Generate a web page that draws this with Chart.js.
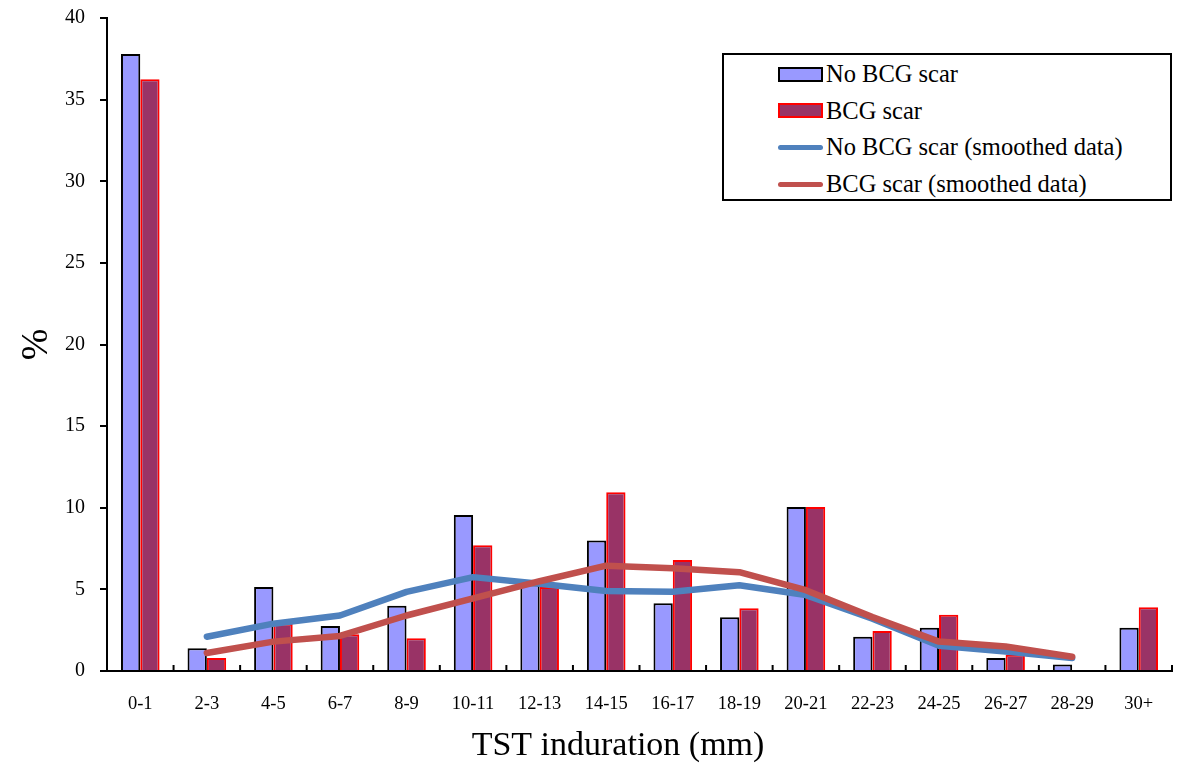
<!DOCTYPE html>
<html>
<head>
<meta charset="utf-8">
<script src="https://cdn.jsdelivr.net/npm/chart.js@4"></script>
<style>
  body { margin: 0; background: #fff; }
  #wrap { position: relative; width: 1200px; height: 773px; }
  #legend {
    position: absolute; left: 722px; top: 53px; width: 450px; height: 148px;
    border: 2px solid #000; box-sizing: border-box; background: #fff;
    font-family: "Liberation Serif", "Times New Roman", serif; font-size: 24.5px; color: #000;
    padding-top: 1px;
  }
  .item { height: 36.6px; display: flex; align-items: center; padding-left: 54px; }
  .sw { width: 45px; margin-right: 3px; box-sizing: border-box; }
</style>
</head>
<body>
<div id="wrap">
  <canvas id="chart" width="1200" height="773"></canvas>
  <div id="legend"></div>
</div>
<script>
const categories = ['0-1', '2-3', '4-5', '6-7', '8-9', '10-11', '12-13', '14-15', '16-17', '18-19', '20-21', '22-23', '24-25', '26-27', '28-29', '30+'];
const noScar = [37.8, 1.4, 5.15, 2.75, 4.0, 9.55, 5.3, 8.0, 4.15, 3.3, 10.05, 2.1, 2.65, 0.8, 0.4, 2.65];
const scar = [36.25, 0.8, 2.9, 2.25, 2.0, 7.7, 5.15, 10.95, 6.8, 3.85, 10.05, 2.45, 3.45, 1.0, null, 3.9];
const noScarSmooth = [null, 2.1, 2.9, 3.4, 4.85, 5.75, 5.35, 4.9, 4.85, 5.25, 4.65, 3.2, 1.55, 1.2, 0.8, null];
const scarSmooth = [null, 1.1, 1.8, 2.15, 3.4, 4.45, 5.5, 6.45, 6.3, 6.05, 4.95, 3.3, 1.8, 1.5, 0.87, null];
const yTicks = [0, 5, 10, 15, 20, 25, 30, 35, 40];
const xTitle = 'TST induration (mm)';

const serif = "'Liberation Serif', 'Times New Roman', serif";

// x tick marks point up into the plot, between categories; x title sits a bit left of centre
const extras = {
  id: 'extras',
  afterDraw(chart) {
    const x = chart.scales.x, ctx = chart.ctx;
    const bottom = chart.chartArea.bottom;
    ctx.save();
    ctx.strokeStyle = '#000';
    ctx.lineWidth = 2;
    for (let i = 0; i <= categories.length; i++) {
      const px = x.getPixelForValue(i - 0.5);
      ctx.beginPath();
      ctx.moveTo(px, bottom);
      ctx.lineTo(px, bottom - 6);
      ctx.stroke();
    }
    ctx.fillStyle = '#000';
    ctx.font = '34px ' + serif;
    ctx.textAlign = 'center';
    ctx.textBaseline = 'middle';
    ctx.fillText(xTitle, 618, 746);
    ctx.restore();
  }
};

const chart = new Chart(document.getElementById('chart'), {
  data: {
    labels: categories,
    datasets: [
      { type: 'line', label: 'BCG scar (smoothed data)', data: scarSmooth, borderColor: '#C0504D', borderWidth: 6.5, pointRadius: 0, order: 0, borderCapStyle: 'round', borderJoinStyle: 'round' },
      { type: 'line', label: 'No BCG scar (smoothed data)', data: noScarSmooth, borderColor: '#4F81BD', borderWidth: 6.5, pointRadius: 0, order: 1, borderCapStyle: 'round', borderJoinStyle: 'round' },
      { type: 'bar', label: 'No BCG scar', data: noScar, backgroundColor: '#9999FF', borderColor: '#000000', borderWidth: 2, order: 2, categoryPercentage: 0.58, barPercentage: 1 },
      { type: 'bar', label: 'BCG scar', data: scar, backgroundColor: '#993366', borderColor: '#FF0000', borderWidth: 2, order: 2, categoryPercentage: 0.58, barPercentage: 1 }
    ]
  },
  options: {
    responsive: false,
    animation: false,
    layout: { padding: { top: 18, right: 28 } },
    plugins: { legend: { display: false }, tooltip: { enabled: false } },
    scales: {
      x: {
        offset: true,
        grid: { display: false, drawTicks: false },
        border: { color: '#000', width: 2 },
        ticks: { color: '#000', font: { family: serif, size: 18.5 }, padding: 22, maxRotation: 0, autoSkip: false },
        afterFit(s) { s.height = 102; s.paddingLeft = 0; s.paddingRight = 0; }
      },
      y: {
        min: 0, max: 40,
        afterBuildTicks(s) { s.ticks = yTicks.map(v => ({ value: v })); },
        grid: { drawOnChartArea: false, tickLength: 7, color: '#000', lineWidth: 2 },
        border: { color: '#000', width: 2 },
        ticks: { color: '#000', font: { family: serif, size: 20 }, padding: 15 },
        title: { display: true, text: '%', color: '#000', font: { family: serif, size: 38 }, padding: { top: 14, bottom: 0 } },
        afterFit(s) { s.width = 107; s.paddingTop = 0; s.paddingBottom = 0; }
      }
    }
  },
  plugins: [extras]
});

// legend as html, built from the datasets
const legendOrder = [2, 3, 1, 0];
const legend = document.getElementById('legend');
legendOrder.forEach(i => {
  const ds = chart.data.datasets[i];
  const item = document.createElement('div');
  item.className = 'item';
  const sw = document.createElement('span');
  sw.className = 'sw';
  if (ds.type === 'bar') {
    sw.style.height = '15px';
    sw.style.background = ds.backgroundColor;
    sw.style.border = '2px solid ' + ds.borderColor;
  } else {
    sw.style.height = '5px';
    sw.style.borderRadius = '3px';
    sw.style.background = ds.borderColor;
  }
  item.appendChild(sw);
  item.appendChild(document.createTextNode(ds.label));
  legend.appendChild(item);
});
</script>
</body>
</html>
